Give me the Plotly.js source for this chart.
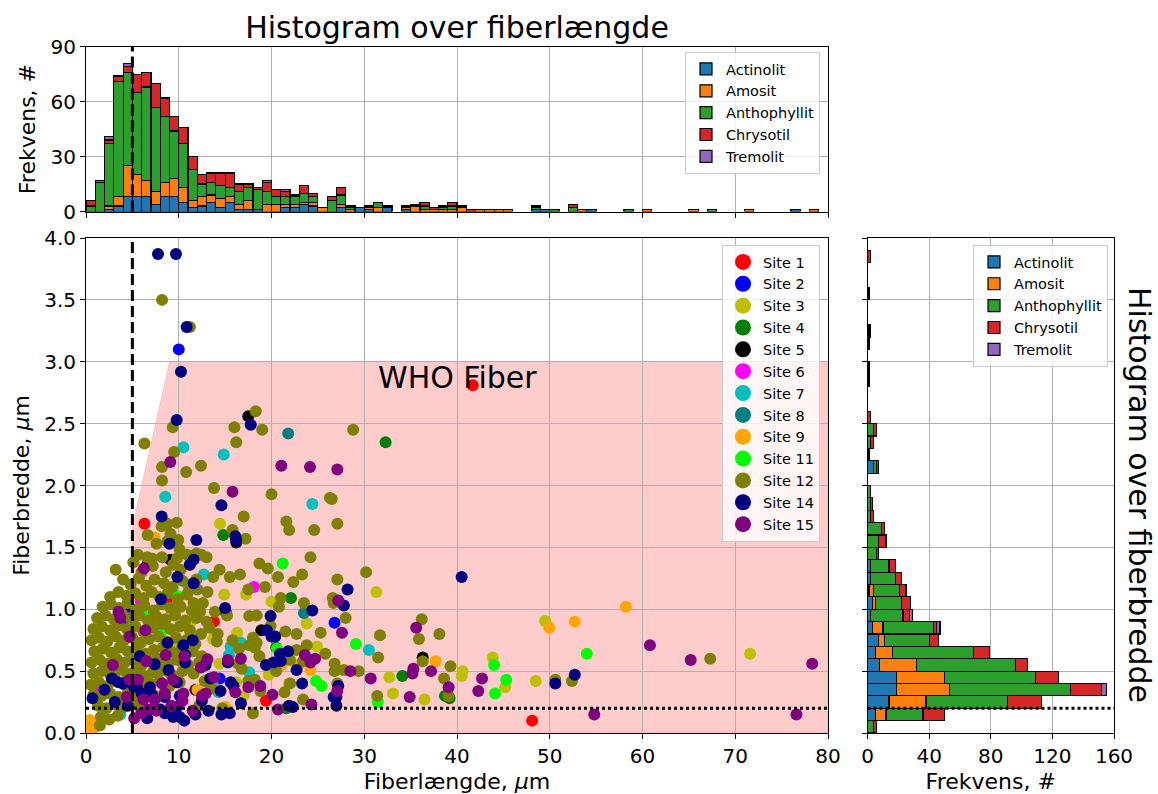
<!DOCTYPE html>
<html>
<head>
<meta charset="utf-8">
<script src="https://cdn.plot.ly/plotly-3.0.1.min.js"></script>
<style>html,body{margin:0;padding:0;background:#fff}#chart{width:1158px;height:794px}</style>
</head>
<body>
<div id="chart"></div>
<script>
// ---------- categories ----------
const minerals = ['Actinolit', 'Amosit', 'Anthophyllit', 'Chrysotil', 'Tremolit'];
const mineralColors = ['#1f77b4', '#ff7f0e', '#2ca02c', '#d62728', '#9467bd'];

const siteNames = ['Site 1','Site 2','Site 3','Site 4','Site 5','Site 6','Site 7','Site 8','Site 9','Site 11','Site 12','Site 14','Site 15'];
const siteColors = ['#ff0000','#0000ff','#bfbf00','#008000','#000000','#ff00ff','#00bfbf','#008080','#ffa500','#00ff00','#808000','#000080','#800080'];

// ---------- WHO criteria ----------
const whoMinLength = 5;     // µm
const whoMaxWidth = 3;      // µm
const whoMinAspect = 3;
const minWidthLine = 0.2;   // µm
const axisMaxLength = 80;

// ---------- fiber length histogram (bins of 1 µm from 0) ----------
const lengthBinWidth = 1;
const lenActinolit = [0,0,1,3,8,8,8,4,8,8, 5,2,3,5,2,5,1,1,1,0, 0,2,2,4,3,0,0,2,0,2, 1,0,2,0,1,0,0,0,0,0, 0,0,0,0,0,0,0,0,1,1, 0,0,0,0,1,0,0,0,0,0, 0,0,0,0,0,0,0,0,0,0, 0,0,0,0,0,0,1,0,0,0];
const lenAmosit    = [0,0,2,5,17,12,9,7,8,10, 8,4,5,4,5,3,3,5,0,4, 4,2,2,1,2,2,0,2,1,0, 1,2,0,0,1,3,1,1,1,1, 2,0,1,1,1,1,0,0,0,0, 0,0,0,1,0,0,0,0,0,0, 1,0,0,0,0,1,0,0,0,0, 0,1,0,0,0,0,0,0,1,0];
const lenAnthophyllit = [3,16,34,63,51,45,51,46,36,26, 24,17,7,7,7,5,7,7,11,7, 4,4,4,5,3,0,6,5,1,0, 0,3,0,0,0,0,2,0,1,2, 0,0,0,0,0,0,0,0,1,0, 1,0,2,0,0,0,0,0,1,0, 0,0,0,0,0,0,0,1,0,0, 0,0,0,0,0,0,0,0,0,0];
const lenChrysotil = [3,0,2,3,3,10,8,13,10,8, 9,7,5,5,7,8,4,2,1,5, 4,3,1,4,2,0,2,4,1,0, 1,0,1,0,1,1,2,1,1,2, 1,1,0,0,0,0,0,0,1,0, 0,0,2,0,0,0,0,0,0,0, 0,0,0,0,0,0,0,0,0,0, 0,0,0,0,0,0,0,0,0,0];
const lenTremolit  = [0,1,2,0,2,0,0,0,0,0, 0,0,0,0,0,0,0,0,0,1, 0,1,0,0,0,0,0,0,0,0, 0,0,0,0,0,0,0,0,0,0, 0,0,0,0,0,0,0,0,0,0, 0,0,0,0,0,0,0,0,0,0, 0,0,0,0,0,0,0,0,0,0, 0,0,0,0,0,0,0,0,0,0];

// ---------- fiber width histogram (bins of 0.1 µm from 0) ----------
const widthBinWidth = 0.1;
const widActinolit = [0,5,14,19,19,8,5,7,3,2, 3,1,2,2,0,0,0,0,0,0, 0,4,0,0,0,0,0,0,0,0, 0,1,1,0,0,0,0,0,0,0];
const widAmosit    = [0,7,24,34,31,24,11,4,7,0, 2,3,0,0,0,0,0,0,0,0, 0,0,0,0,0,0,0,0,0,0, 0,0,0,0,0,0,0,0,0,0];
const widAnthophyllit = [4,24,53,79,59,64,53,29,33,21, 17,17,16,12,6,7,9,2,2,2, 0,2,1,2,4,0,0,0,1,1, 0,0,1,0,0,1,0,0,0,0];
const widChrysotil = [2,14,22,20,15,8,10,6,2,4, 6,4,4,4,1,5,2,2,1,0, 0,1,0,2,2,2,0,0,0,0, 0,0,0,0,0,0,0,0,2,0];
const widTremolit  = [0,0,0,3,0,0,0,0,2,2, 0,0,0,0,0,0,0,0,0,0, 0,0,0,0,0,0,0,0,0,0, 0,0,0,0,0,0,0,0,0,0];

// ---------- scatter: [length µm, width µm] per site ----------
const site1 = [[41.7,2.81],[48.1,0.10],[6.3,1.69],[13.8,0.90],[19.4,0.26],[8.7,1.07]];
const site2 = [[10.0,3.10],[26.8,0.89],[4.9,1.00],[3.95,0.89],[14.4,0.44]];
const site3 = [[14.45,1.69],[31.3,1.14],[49.5,0.905],[71.6,0.64],[48.5,0.42],[45.2,0.37],[43.85,0.61],[40.5,0.46],[40.6,0.50],[33.1,0.32],[32.7,0.45],[36.5,0.27],[16.3,0.81],[13.7,0.76],[14.4,0.56],[23.8,0.885],[16.2,0.41],[14.9,1.12],[17.25,1.12],[20.0,1.06],[24.9,0.70],[21.9,0.40],[19.7,0.47],[11.3,0.90],[9.6,0.72],[17.0,0.30]];
const site4 = [[32.3,2.35],[14.8,1.60],[22.1,1.09],[34.1,0.46],[39.2,0.28],[21.6,0.20],[20.5,0.69],[38.7,0.30]];
const site5 = [[17.5,2.56],[16.2,1.54],[9.1,1.40],[15.1,0.97],[18.9,0.83],[36.3,0.61],[11.8,0.35],[6.7,1.38]];
const site6 = [[18.1,1.18],[5.9,1.07],[1.3,0.38],[8.8,0.50]];
const site7 = [[10.5,2.31],[14.85,2.25],[8.55,1.91],[24.4,1.85],[30.5,0.67],[12.7,1.28],[16.7,0.73],[15.6,0.70],[17.6,0.49],[14.3,0.33],[13.6,0.40],[15.4,0.63],[3.7,0.15],[11.0,1.20]];
const site8 = [[21.8,2.42],[23.5,0.97]];
const site9 = [[7.4,1.58],[58.2,1.02],[49.95,0.85],[52.7,0.90],[37.7,0.58],[21.1,0.55],[23.1,0.56],[24.2,0.51],[0.43,0.105],[0.86,0.04],[0.3,0.03],[15.0,0.21],[12.0,0.35]];
const site11 = [[21.2,1.37],[29.1,0.72],[44.0,0.55],[45.3,0.43],[44.1,0.32],[31.45,0.25],[54.0,0.64],[24.8,0.42],[25.4,0.38],[20.6,0.68],[8.1,0.82],[9.8,1.11],[6.4,0.94]];
const site12 = [
 [8.2,3.50],[11.2,3.28],[9.35,2.47],[18.3,2.60],[16.0,2.47],[19.0,2.45],[6.3,2.34],[16.2,2.35],[9.5,2.27],[8.2,2.15],[12.4,2.16],[10.8,2.11],[8.2,2.04],[13.8,1.98],[20.0,1.93],[26.3,1.90],[28.8,2.45],[26.5,1.89],[27.1,1.69],[24.6,1.64],[21.6,1.71],[21.9,1.64],[17.0,1.75],[15.8,1.64],[17.2,1.57],[30.2,1.30],[27.1,1.24],[26.6,1.09],[26.7,1.05],[28.0,0.93],[36.2,0.92],[35.9,0.76],[38.1,0.80],[31.7,0.79],[31.5,0.61],[36.3,0.58],[39.3,0.54],[26.8,0.56],[26.8,0.50],[27.8,0.51],[29.4,0.50],[38.6,0.44],[31.4,0.30],[39.1,0.30],[27.1,0.40],[50.6,0.43],[52.4,0.42],[67.3,0.60],
 [18.7,1.37],[19.6,1.33],[16.6,1.28],[17.5,1.16],[20.7,1.26],[22.35,1.22],[23.3,1.28],[21.0,1.09],[23.5,1.05],[13.1,1.14],[11.6,1.05],[12.3,0.98],[13.9,0.98],[17.6,0.945],[18.4,0.95],[20.8,1.02],[19.9,0.865],[15.8,0.75],[14.2,0.80],[14.1,0.74],[18.0,0.77],[18.4,0.73],[18.2,0.69],[22.7,0.80],[25.3,0.81],[22.7,0.67],[23.8,0.71],[25.8,0.64],[23.4,0.58],[22.0,0.59],[18.7,0.62],[16.5,0.68],[17.6,0.71],[22.0,0.40],[21.4,0.33],[23.4,0.27],[18.0,0.16],[18.2,0.43],[18.8,0.34],[17.5,0.42],[16.8,0.52],[16.4,0.56],[13.5,0.36],[12.8,0.42],[13.0,1.42],[13.7,1.26],[11.9,1.24],[14.4,1.32],[15.5,1.26],[12.5,0.62],[13.3,0.85],[15.2,0.95],[19.3,1.18],[21.5,0.82],[24.2,1.42],[20.5,0.50],[14.7,0.20],[12.2,0.22],
 [6.65,1.60],[8.16,1.67],[8.77,1.69],[9.78,1.70],[9.95,1.56],[8.77,1.55],[9.1,1.61],[7.6,1.53],[10.1,1.48],[10.9,1.44],[11.9,1.45],[9.8,1.41],[8.2,1.42],[7.1,1.41],[5.6,1.44],[5.1,1.38],[6.0,1.30],[6.6,1.42],[7.2,1.35],[8.6,1.30],[9.4,1.36],[10.2,1.32],[11.2,1.36],[12.4,1.44],[3.2,1.32],[4.0,1.24],
 [4.8,1.20],[5.7,1.25],[6.5,1.19],[7.4,1.24],[8.4,1.21],[9.3,1.18],[10.4,1.23],[11.1,1.15],
 [2.6,1.10],[3.5,1.14],[4.4,1.11],[5.3,1.13],[6.2,1.09],[7.1,1.14],[7.9,1.10],[8.8,1.13],[9.9,1.08],[10.9,1.12],[12.0,1.16],
 [1.8,1.02],[2.7,1.04],[3.6,1.01],[4.5,1.05],[5.4,1.00],[6.3,1.03],[7.3,0.99],[8.2,1.04],[9.1,1.01],[10.2,1.02],[11.4,0.99],[12.6,1.05],
 [1.2,0.93],[2.1,0.95],[3.0,0.92],[3.9,0.96],[4.8,0.93],[5.7,0.95],[6.7,0.91],[7.6,0.94],[8.6,0.92],[9.6,0.95],[10.7,0.91],[11.9,0.93],[13.0,0.90],
 [0.8,0.84],[1.7,0.86],[2.6,0.83],[3.5,0.87],[4.4,0.84],[5.3,0.86],[6.2,0.82],[7.2,0.85],[8.1,0.88],[9.1,0.84],[10.1,0.86],[11.2,0.83],[12.4,0.80],
 [0.6,0.75],[1.4,0.77],[2.3,0.74],[3.2,0.78],[4.1,0.75],[5.0,0.77],[5.9,0.73],[6.8,0.76],[7.8,0.78],[8.7,0.74],[9.7,0.77],[10.8,0.75],[11.8,0.72],
 [0.9,0.66],[1.8,0.68],[2.7,0.65],[3.6,0.69],[4.5,0.66],[5.4,0.68],[6.4,0.64],[7.3,0.67],[8.3,0.69],[9.3,0.65],[10.3,0.68],[11.5,0.66],
 [0.6,0.57],[1.5,0.59],[2.4,0.56],[3.3,0.60],[4.2,0.57],[5.1,0.59],[6.0,0.55],[7.0,0.58],[7.9,0.60],[8.9,0.56],[9.9,0.59],[11.0,0.55],[12.2,0.57],
 [0.8,0.48],[1.7,0.50],[2.6,0.47],[3.5,0.51],[4.4,0.48],[5.3,0.50],[6.3,0.46],[7.2,0.49],[8.2,0.51],[9.2,0.47],[10.4,0.50],[11.6,0.48],
 [0.5,0.39],[1.4,0.41],[2.3,0.38],[3.2,0.42],[4.1,0.39],[5.0,0.41],[5.9,0.37],[6.9,0.40],[7.9,0.42],[9.0,0.38],[10.1,0.41],
 [0.8,0.31],[1.7,0.30],[2.6,0.32],[3.5,0.29],[4.4,0.31],[5.4,0.28],[6.4,0.32],[7.4,0.30],[8.5,0.33],
 [1.3,0.22],[2.2,0.20],[3.1,0.23],[4.0,0.21],[4.9,0.24],[5.9,0.20],
 [1.6,0.13],[2.5,0.11],[3.4,0.14],[1.5,0.06]
];
const site14 = [[7.76,3.87],[9.7,3.87],[10.85,3.28],[10.24,2.92],[9.78,2.53],[17.76,2.49],[40.5,1.26],[8.16,1.75],[14.6,1.84],[16.1,1.59],[16.2,1.56],[9.0,1.53],[11.9,1.56],[11.6,1.21],[24.4,0.99],[15.0,1.01],[19.9,0.945],[19.5,0.83],[20.0,0.78],[20.4,0.78],[28.2,1.16],[27.8,1.03],[22.7,0.51],[19.4,0.55],[20.2,0.57],[21.0,0.58],[20.9,0.64],[21.8,0.66],[15.3,0.57],[23.3,0.40],[21.9,0.22],[22.3,0.21],[26.7,0.29],[16.7,0.24],[15.5,0.16],[14.6,0.15],[15.9,0.38],[15.6,0.41],[13.4,0.44],[14.5,0.34],[27.0,0.22],[27.0,0.29],[27.2,0.38],[50.6,0.40],[52.7,0.47],[11.2,1.36],[11.6,1.40],[9.85,1.26],[8.1,1.08],[10.5,0.71],[10.7,0.63],[8.8,0.73],[10.1,0.13],[9.8,0.21],[2.8,0.44],[3.5,0.41],[4.0,0.40],[5.1,0.38],[5.5,0.37],[6.0,0.32],[6.9,0.37],[7.1,0.31],[8.0,0.19],[8.5,0.16],[9.4,0.13],[10.6,0.10],[8.5,0.29],[9.8,0.41],[10.1,0.30],[10.7,0.57],[7.4,0.555],[8.9,0.51],[0.7,0.28],[11.8,0.15],[12.5,0.26],[13.2,0.18],[6.6,0.12],[3.1,0.25],[4.5,0.22],[2.0,0.35],[5.8,0.62],[12.9,0.55],[11.5,0.75]];
const site15 = [[9.09,2.19],[21.06,2.16],[24.15,2.15],[27.1,2.13],[15.8,1.95],[27.6,0.81],[27.2,1.07],[35.6,0.85],[28.5,0.50],[30.7,0.44],[35.2,0.48],[35.3,0.52],[37.2,0.50],[42.7,0.44],[42.3,0.34],[34.9,0.29],[39.1,0.37],[27.1,0.34],[54.8,0.15],[76.6,0.15],[60.8,0.71],[65.2,0.59],[78.3,0.56],[23.6,0.63],[24.7,0.60],[24.2,0.57],[15.3,0.59],[16.7,0.60],[13.1,0.595],[12.4,0.53],[20.1,0.31],[20.7,0.19],[24.3,0.23],[17.5,0.37],[18.8,0.38],[16.1,0.33],[12.9,0.32],[13.8,0.45],[8.6,0.63],[10.6,0.62],[9.4,0.43],[10.5,0.32],[8.5,0.32],[10.4,0.26],[12.5,0.30],[3.7,0.93],[6.25,1.33],[6.4,0.83],[4.7,0.78],[6.5,0.58],[4.7,0.43],[5.6,0.43],[6.2,0.27],[7.4,0.27],[7.6,0.18],[8.2,0.40],[6.8,0.19],[6.0,0.16],[4.4,0.29],[3.5,0.98],[2.9,0.55],[11.5,0.18],[9.2,0.22],[5.2,0.12]];

const siteData = [site1, site2, site3, site4, site5, site6, site7, site8, site9, site11, site12, site14, site15];

// ---------- build traces ----------
const nz = a => a.map(v => (v === 0 ? null : v));
const traces = [];

siteData.forEach((pts, i) => {
  traces.push({
    type: 'scatter', mode: 'markers', xaxis: 'x', yaxis: 'y',
    x: pts.map(p => p[0]), y: pts.map(p => p[1]),
    name: siteNames[i], showlegend: false, hoverinfo: 'skip',
    marker: { color: siteColors[i], size: 12, line: { width: 0 } }
  });
});
// legend entries for sites (bigger symbols, as in the original)
siteNames.forEach((n, i) => {
  traces.push({
    type: 'scatter', mode: 'markers', xaxis: 'x', yaxis: 'y',
    x: [null], y: [null], name: n, legend: 'legend', showlegend: true,
    marker: { color: siteColors[i], size: 17 }
  });
});

const lenSeries = [lenActinolit, lenAmosit, lenAnthophyllit, lenChrysotil, lenTremolit];
const lenCenters = lenActinolit.map((_, k) => (k + 0.5) * lengthBinWidth);
lenSeries.forEach((s, i) => {
  traces.push({
    type: 'bar', xaxis: 'x2', yaxis: 'y2', x: lenCenters, y: nz(s),
    width: lengthBinWidth, name: minerals[i], legend: 'legend2',
    marker: { color: mineralColors[i], line: { color: '#000', width: 1.2 } },
    hoverinfo: 'skip'
  });
});

const widSeries = [widActinolit, widAmosit, widAnthophyllit, widChrysotil, widTremolit];
const widCenters = widActinolit.map((_, k) => +((k + 0.5) * widthBinWidth).toFixed(3));
widSeries.forEach((s, i) => {
  traces.push({
    type: 'bar', orientation: 'h', xaxis: 'x3', yaxis: 'y3', y: widCenters, x: nz(s),
    width: widthBinWidth, name: minerals[i], legend: 'legend3',
    marker: { color: mineralColors[i], line: { color: '#000', width: 1.2 } },
    hoverinfo: 'skip'
  });
});

// ---------- layout ----------
const FONT = 'DejaVu Sans, Liberation Sans, sans-serif';
const gridC = '#b0b0b0';
const axBase = {
  showgrid: true, gridcolor: gridC, gridwidth: 1, zeroline: false,
  showline: true, linecolor: '#000', linewidth: 1, mirror: true,
  ticks: 'outside', ticklen: 5, tickwidth: 1, tickcolor: '#000',
  tickfont: { size: 20, color: '#000', family: FONT }
};

const xDom = [86 / 1158, 828 / 1158];
const xDomR = [867.5 / 1158, 1114 / 1158];
const yDomMain = [61 / 794, 556 / 794];
const yDomTop = [582.5 / 794, 747.3 / 794];

const legendBase = {
  bgcolor: 'rgba(255,255,255,0.8)', bordercolor: '#cccccc', borderwidth: 1,
  font: { size: 14.5, color: '#000', family: FONT }, traceorder: 'normal',
  xanchor: 'right', yanchor: 'top', tracegroupgap: 0
};

const whoPath = 'M' + whoMinLength + ',0' +
  'L' + whoMinLength + ',' + (whoMinLength / whoMinAspect) +
  'L' + (whoMaxWidth * whoMinAspect) + ',' + whoMaxWidth +
  'L' + axisMaxLength + ',' + whoMaxWidth +
  'L' + axisMaxLength + ',0Z';

const layout = {
  width: 1158, height: 794,
  margin: { l: 0, r: 0, t: 0, b: 0 },
  paper_bgcolor: '#fff', plot_bgcolor: 'rgba(0,0,0,0)',
  font: { family: FONT, color: '#000' },
  barmode: 'stack', bargap: 0,
  hovermode: false,
  title: { text: 'Histogram over fiberlængde', x: 457 / 1158, xanchor: 'center', y: 1 - 27 / 794, yanchor: 'middle', font: { size: 30, family: FONT, color: '#000' } },
  xaxis: Object.assign({}, axBase, {
    domain: xDom, anchor: 'y', range: [0, 80], tick0: 0, dtick: 10,
    title: { text: 'Fiberlængde, <i>μ</i>m', font: { size: 22, family: FONT }, standoff: 8 }
  }),
  yaxis: Object.assign({}, axBase, {
    domain: yDomMain, anchor: 'x', range: [0, 4], tick0: 0, dtick: 0.5, tickformat: '.1f',
    title: { text: 'Fiberbredde, <i>μ</i>m', font: { size: 22, family: FONT }, standoff: 8 }
  }),
  xaxis2: Object.assign({}, axBase, {
    domain: xDom, anchor: 'y2', range: [0, 80], tick0: 0, dtick: 10, showticklabels: false
  }),
  yaxis2: Object.assign({}, axBase, {
    domain: yDomTop, anchor: 'x2', range: [0, 90], tick0: 0, dtick: 30,
    title: { text: 'Frekvens, #', font: { size: 22, family: FONT }, standoff: 8 }
  }),
  xaxis3: Object.assign({}, axBase, {
    domain: xDomR, anchor: 'y3', range: [0, 160], tick0: 0, dtick: 40,
    title: { text: 'Frekvens, #', font: { size: 22, family: FONT }, standoff: 8 }
  }),
  yaxis3: Object.assign({}, axBase, {
    domain: yDomMain, anchor: 'x3', range: [0, 4], tick0: 0, dtick: 0.5, showticklabels: false
  }),
  legend: Object.assign({}, legendBase, { x: 820 / 1158, y: 1 - 245 / 794 }),
  legend2: Object.assign({}, legendBase, { x: 820 / 1158, y: 1 - 52 / 794 }),
  legend3: Object.assign({}, legendBase, { x: 1108 / 1158, y: 1 - 245 / 794 }),
  shapes: [
    { type: 'path', xref: 'x', yref: 'y', path: whoPath, fillcolor: 'rgba(255,0,0,0.2)', line: { width: 0.5, color: 'rgba(255,0,0,0.25)' }, layer: 'below' },
    { type: 'line', xref: 'x', yref: 'y domain', x0: whoMinLength, x1: whoMinLength, y0: 0, y1: 1, line: { color: '#000', width: 3, dash: '11px,5px' } },
    { type: 'line', xref: 'x2', yref: 'y2 domain', x0: whoMinLength, x1: whoMinLength, y0: 0, y1: 1, line: { color: '#000', width: 3, dash: '11px,5px' } },
    { type: 'line', xref: 'x domain', yref: 'y', x0: 0, x1: 1, y0: minWidthLine, y1: minWidthLine, line: { color: '#000', width: 3, dash: 'dot' } },
    { type: 'line', xref: 'x3 domain', yref: 'y3', x0: 0, x1: 1, y0: minWidthLine, y1: minWidthLine, line: { color: '#000', width: 3, dash: 'dot' } }
  ],
  annotations: [
    { text: 'WHO Fiber', xref: 'x', yref: 'y', x: 40, y: 2.87, showarrow: false, xanchor: 'center', yanchor: 'middle', font: { size: 30, family: FONT, color: '#000' } },
    { text: 'Histogram over fiberbredde', xref: 'paper', yref: 'paper', x: 1140 / 1158, y: 1 - 495 / 794, showarrow: false, textangle: 90, xanchor: 'center', yanchor: 'middle', font: { size: 30, family: FONT, color: '#000' } }
  ]
};

Plotly.newPlot('chart', traces, layout, { staticPlot: true, displayModeBar: false });
</script>
</body>
</html>
